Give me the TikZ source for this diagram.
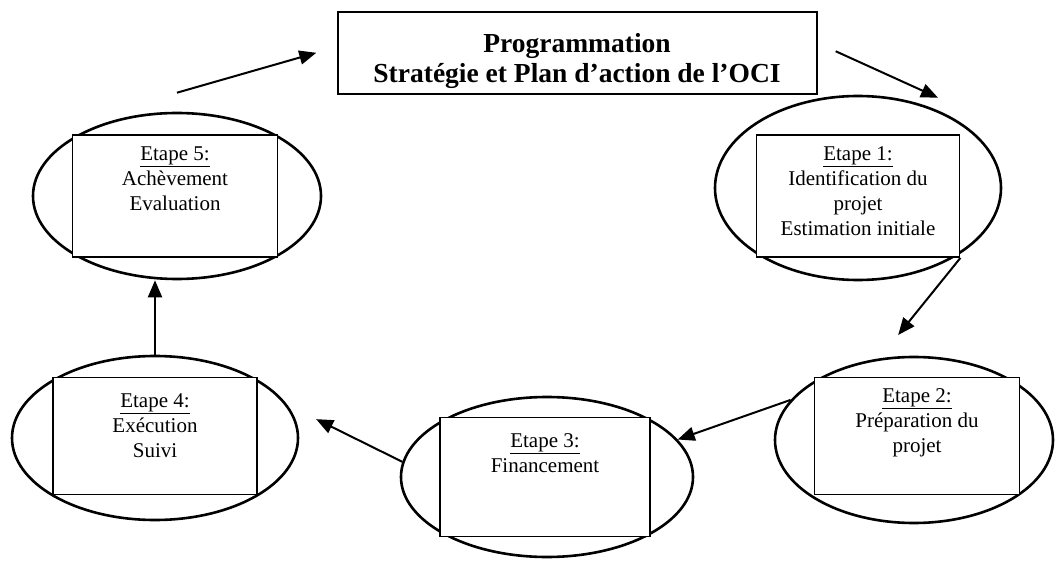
\documentclass[tikz,border=0pt]{standalone}
\usepackage{fontspec}
\setmainfont{Liberation Serif}
\usetikzlibrary{positioning,shapes.geometric,arrows.meta}

\begin{document}
\begin{tikzpicture}[x=1pt,y=-1pt,
	ring/.style={draw,ellipse,line width=2.6pt,inner sep=0pt},
	stagebox/.style={draw,fill=white,rectangle,line width=1.8pt,inner sep=0pt,minimum width=205pt,minimum height=120pt},
	stagetext/.style={align=center,inner sep=0pt,font=\fontsize{21}{25}\selectfont},
	flow/.style={-{Triangle[length=17pt,width=14pt]},line width=2pt}]
		\useasboundingbox (0,0) rectangle (1055,561);
		
		% programme box
		\node[draw,rectangle,line width=2pt,inner sep=0pt,minimum width=479pt,minimum height=82pt] (prog) at (577,53){};
		\node[align=center,inner sep=0pt,font=\bfseries\fontsize{27.5}{30}\selectfont,below=22pt of prog.north] (progtext) {Programmation\\Stratégie et Plan d’action de l’OCI};
		
		% rings
		\node[ring,minimum width=286pt,minimum height=184pt] (e1) at (858,188){};
		\node[ring,minimum width=278pt,minimum height=166pt] (e2) at (914,440){};
		\node[ring,minimum width=292pt,minimum height=160pt] (e3) at (547,477){};
		\node[ring,minimum width=286pt,minimum height=164pt] (e4) at (155,438){};
		\node[ring,minimum width=288pt,minimum height=166pt] (e5) at (177,196){};
		
		% boxes
		\node[stagebox,minimum width=203pt,minimum height=122pt] (r1) at (858,196){};
		\node[stagebox,minimum width=205pt,minimum height=117pt] (r2) at (917,436){};
		\node[stagebox,minimum width=210pt,minimum height=119pt] (r3) at (545,477){};
		\node[stagebox,minimum width=204pt,minimum height=117pt] (r4) at (155,436){};
		\node[stagebox,minimum width=205pt,minimum height=122pt] (r5) at (175,196){};
		
		\node[stagetext,below=12pt of r1.north] (t1) {\underline{Etape 1:}\\Identification du\\projet\\Estimation initiale};
		\node[stagetext,below=12pt of r2.north] (t2) {\underline{Etape 2:}\\Préparation du\\projet};
		\node[stagetext,below=17pt of r3.north] (t3) {\underline{Etape 3:}\\Financement};
		\node[stagetext,below=17pt of r4.north] (t4) {\underline{Etape 4:}\\Exécution\\Suivi};
		\node[stagetext,below=12pt of r5.north] (t5) {\underline{Etape 5:}\\Achèvement\\Evaluation};
		
		% free arrow ends
		\coordinate (c5) at ([yshift=19pt]e5.north);
		\coordinate (c1) at ([xshift=80pt,yshift=-3pt]e1.north);
		
		% cycle
		\draw[flow,shorten >=21pt] (c5) -- ([yshift=6pt]prog.west);
		\draw[flow,shorten <=20pt] ([yshift=10pt]prog.east) -- (c1);
		\draw[flow,shorten >=30pt] (r1.south east) -- (e2.113);
		\draw[flow] (e2.162) -- (e3.16);
		\draw[flow,shorten >=32pt] (e3.174) -- (e4.14);
		\draw[flow] (e4.north) -- (e4.north |- e5.south);
		\end{tikzpicture}
\end{document}
